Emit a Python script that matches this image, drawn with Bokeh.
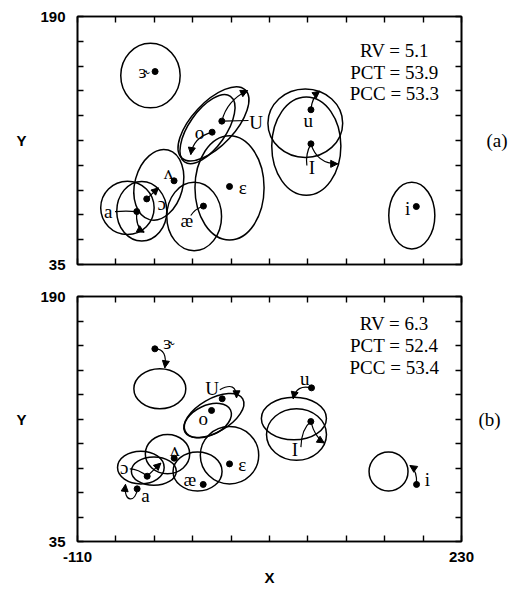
from bokeh.plotting import figure
from bokeh.models import Range1d, FixedTicker, LinearAxis, Arrow, NormalHead, ColumnDataSource
from bokeh.layouts import column
from bokeh.embed import file_html
from bokeh.resources import INLINE
from bokeh.core.properties import value

VOWELS = ["ɝ", "U", "o", "ɛ", "æ", "ʌ", "ɔ", "a", "u", "I", "i"]

X_RANGE = (-110, 230)
Y_RANGE = (35, 190)
X_MINOR = [-76, -42, -8, 26, 60, 94, 128, 162, 196]
Y_MINOR = [50.5, 66, 81.5, 97, 112.5, 128, 143.5, 159, 174.5]

# ---------------- panel (a) ----------------
A_PT_X = [-41.3, 17.8, 9.2, 24.6, 1.5, -24.5, -48.7, -57.5, 96.7, 96.7, 190.0]
A_PT_Y = [155.6, 124.6, 117.7, 83.75, 71.5, 87.3, 76.0, 68.1, 131.7, 110.4, 71.25]
A_EL_X = [-45.4, 10.4, 5.1, 24.6, -6.7, -38.0, -53.1, -65.8, 91.7, 92.6, 186.0]
A_EL_Y = [153.1, 122.9, 119.6, 82.9, 65.0, 84.8, 68.3, 70.4, 123.3, 109.0, 65.6]
A_EL_W = [52.6, 82.4, 70.9, 61.2, 48.5, 63.8, 44.3, 47.3, 66.2, 61.2, 40.8]
A_EL_H = [40.4, 26.9, 23.1, 65.2, 42.7, 30.0, 37.3, 33.3, 42.7, 61.5, 41.7]
A_EL_ANG = [0, 47, 55, 0, 0, 75, 0, 0, 0, 0, 0]
A_LAB_X = [-51.0, 48.2, -2.0, 36.4, -13.2, -29.5, -35.4, -82.7, 94.3, 97.6, 182.4]
A_LAB_Y = [155.8, 124.0, 117.7, 83.3, 62.5, 92.3, 73.3, 68.3, 125.0, 95.4, 69.8]
A_STATS = ["RV = 5.1", "PCT = 53.9", "PCC = 53.3"]
A_STATS_X = [170.6, 170.6, 170.6]
A_STATS_Y = [168.75, 155.2, 141.7]
# connectors (quadratic curves), head = 1 -> arrowhead at the end
A_C_X0 = [-76.8, -57.5, -48.7, -9.7, 9.2, 17.8, 17.8, 96.7, 96.7, 96.7]
A_C_Y0 = [68.1, 68.1, 76.0, 65.6, 117.7, 124.6, 124.6, 131.7, 110.4, 110.4]
A_C_CX = [-67.0, -59.0, -43.5, -5.8, -7.3, 29.6, 22.2, 97.6, 102.0, 91.7]
A_C_CY = [68.6, 58.3, 79.5, 69.8, 114.6, 124.8, 137.5, 139.6, 97.9, 104.2]
A_C_X1 = [-57.5, -51.0, -38.3, 0.6, -9.7, 41.4, 40.6, 104.4, 120.4, 93.1]
A_C_Y1 = [68.1, 55.2, 82.9, 71.25, 103.75, 125.0, 143.75, 143.3, 97.9, 96.9]
A_C_HEAD = [0, 1, 1, 0, 1, 0, 1, 1, 1, 0]

# ---------------- panel (b) ----------------
B_PT_X = [-41.5, 18.1, 8.7, 24.6, 1.3, -24.4, -48.3, -57.2, 97.2, 96.6, 190.2]
B_PT_Y = [156.9, 125.3, 117.9, 84.1, 71.1, 87.7, 76.3, 68.3, 132.2, 110.9, 71.1]
B_EL_X = [-37.1, 10.7, 5.4, 24.6, -3.7, -30.3, -53.9, -42.4, 81.6, 83.9, 165.4]
B_EL_Y = [131.6, 114.7, 111.5, 89.6, 79.3, 90.3, 81.8, 79.5, 112.8, 102.7, 79.3]
B_EL_W = [46.0, 59.1, 44.3, 51.7, 43.4, 39.3, 41.3, 39.8, 57.6, 53.1, 34.5]
B_EL_H = [25.3, 21.1, 19.0, 36.3, 24.7, 24.9, 20.7, 17.9, 27.0, 32.7, 24.7]
B_EL_ANG = [0, 30, 25, 0, 0, 0, 0, 0, 0, 0, 0]
B_LAB_X = [-29.1, 9.2, 1.3, 35.8, -10.5, -23.8, -68.7, -49.8, 91.3, 82.4, 199.9]
B_LAB_Y = [161.1, 131.6, 113.0, 83.5, 74.0, 93.0, 82.0, 64.1, 138.3, 93.0, 74.2]
B_STATS = ["RV = 6.3", "PCT = 52.4", "PCC = 53.4"]
B_STATS_X = [170.4, 170.4, 170.4]
B_STATS_Y = [172.7, 159.0, 145.3]
B_C_X0 = [-41.5, 16.0, -63.7, -48.3, 97.2, 96.6, 96.6, 190.2]
B_C_Y0 = [156.9, 131.0, 81.0, 76.3, 132.2, 110.9, 110.9, 71.1]
B_C_CX = [-30.0, 30.8, -56.3, -42.3, 83.9, 100.2, 88.3, 191.0]
B_C_CY = [157.0, 136.9, 81.0, 80.5, 134.7, 101.0, 106.3, 79.9]
B_C_X1 = [-32.7, 30.8, -48.3, -36.2, 81.0, 108.4, 87.8, 184.3]
B_C_Y1 = [144.9, 125.9, 76.3, 84.6, 125.3, 97.4, 94.7, 83.1]
B_C_HEAD = [1, 1, 0, 1, 1, 1, 0, 1]
# loop arrow under "a" (cubic)
B_LOOP_X0, B_LOOP_Y0 = [-57.2], [68.3]
B_LOOP_CX0, B_LOOP_CY0 = [-57.8], [59.9]
B_LOOP_CX1, B_LOOP_CY1 = [-69.6], [58.8]
B_LOOP_X1, B_LOOP_Y1 = [-67.5], [71.1]

SERIF = "Liberation Serif"
SANS = "Liberation Sans"


def make_axis(is_x, show_labels, standoff, label=None, label_standoff=0, serif_label=False):
    lo, hi = (X_RANGE if is_x else Y_RANGE)
    minor = X_MINOR if is_x else Y_MINOR
    ax = LinearAxis(ticker=FixedTicker(ticks=[lo, hi], minor_ticks=minor))
    ax.major_tick_in = 6
    ax.major_tick_out = 0
    ax.minor_tick_in = 6
    ax.minor_tick_out = 0
    ax.axis_line_width = 1.6
    ax.axis_line_color = "black"
    ax.major_tick_line_width = 1.4
    ax.minor_tick_line_width = 1.4
    ax.major_tick_line_color = "black"
    ax.minor_tick_line_color = "black"
    if show_labels:
        ax.major_label_text_font = SANS
        ax.major_label_text_font_style = "bold"
        ax.major_label_text_font_size = "15px"
        ax.major_label_text_color = "black"
        ax.major_label_standoff = standoff
        ax.major_label_overrides = {lo: str(lo), hi: str(hi)}
    else:
        ax.major_label_overrides = {lo: "", hi: ""}
        ax.major_label_text_font_size = "0px"
        ax.major_label_standoff = 0
    if label is not None:
        ax.axis_label = label
        ax.axis_label_orientation = "horizontal"
        ax.axis_label_standoff = label_standoff
        ax.axis_label_text_color = "black"
        if serif_label:
            ax.axis_label_text_font = SERIF
            ax.axis_label_text_font_style = "normal"
            ax.axis_label_text_font_size = "19px"
        else:
            ax.axis_label_text_font = SANS
            ax.axis_label_text_font_style = "bold"
            ax.axis_label_text_font_size = "15px"
    return ax


def make_panel(pt_x, pt_y, el_x, el_y, el_w, el_h, el_ang, lab_x, lab_y,
               cx0, cy0, ccx, ccy, cx1, cy1, chead, stats, sx, sy,
               tag, tag_standoff, frame_h, bottom, x_labels):
    p = figure(frame_width=384, frame_height=frame_h,
               x_range=Range1d(*X_RANGE), y_range=Range1d(*Y_RANGE),
               x_axis_type=None, y_axis_type=None,
               output_backend="svg", toolbar_location=None,
               min_border_left=77, min_border_right=56,
               min_border_top=16, min_border_bottom=bottom)
    p.outline_line_color = "black"
    p.outline_line_width = 1.6
    p.background_fill_color = "white"
    p.border_fill_color = "white"

    if x_labels:
        p.add_layout(make_axis(True, True, 10, "X", 4), "below")
    else:
        p.add_layout(make_axis(True, False, 0), "below")
    p.add_layout(make_axis(False, True, 12, "Y", 11), "left")
    p.add_layout(make_axis(True, False, 0), "above")
    p.add_layout(make_axis(False, False, 0, tag, tag_standoff, serif_label=True), "right")

    p.ellipse(x=el_x, y=el_y, width=el_w, height=el_h, angle=el_ang,
              angle_units="deg", fill_color=None, line_color="black",
              line_width=1.5)
    p.quadratic(x0=cx0, y0=cy0, x1=cx1, y1=cy1, cx=ccx, cy=ccy,
                line_color="black", line_width=1.2)
    heads = [i for i, h in enumerate(chead) if h]
    src = ColumnDataSource(dict(xs=[ccx[i] for i in heads], ys=[ccy[i] for i in heads],
                                xe=[cx1[i] for i in heads], ye=[cy1[i] for i in heads]))
    p.add_layout(Arrow(end=NormalHead(size=7, fill_color="black", line_color="black",
                                      line_width=1),
                       source=src, x_start="xs", y_start="ys", x_end="xe", y_end="ye",
                       line_alpha=0))
    p.scatter(x=pt_x, y=pt_y, size=6, color="black")
    p.text(x=lab_x, y=lab_y, text=VOWELS, text_font=value(SERIF),
           text_font_size="19px", text_align="center", text_baseline="middle",
           text_color="black")
    p.text(x=sx, y=sy, text=stats, text_font=value(SERIF), text_font_size="19px",
           text_align="center", text_baseline="middle", text_color="black")
    return p


pa = make_panel(A_PT_X, A_PT_Y, A_EL_X, A_EL_Y, A_EL_W, A_EL_H, A_EL_ANG, A_LAB_X, A_LAB_Y,
                A_C_X0, A_C_Y0, A_C_CX, A_C_CY, A_C_X1, A_C_Y1, A_C_HEAD,
                A_STATS, A_STATS_X, A_STATS_Y, "(a)", 25, 248, 16, False)
pb = make_panel(B_PT_X, B_PT_Y, B_EL_X, B_EL_Y, B_EL_W, B_EL_H, B_EL_ANG, B_LAB_X, B_LAB_Y,
                B_C_X0, B_C_Y0, B_C_CX, B_C_CY, B_C_X1, B_C_Y1, B_C_HEAD,
                B_STATS, B_STATS_X, B_STATS_Y, "(b)", 17, 245, 48, True)
pb.bezier(x0=B_LOOP_X0, y0=B_LOOP_Y0, x1=B_LOOP_X1, y1=B_LOOP_Y1,
          cx0=B_LOOP_CX0, cy0=B_LOOP_CY0, cx1=B_LOOP_CX1, cy1=B_LOOP_CY1,
          line_color="black", line_width=1.2)
pb.add_layout(Arrow(end=NormalHead(size=7, fill_color="black", line_color="black", line_width=1),
                    x_start=B_LOOP_CX1[0], y_start=B_LOOP_CY1[0],
                    x_end=B_LOOP_X1[0], y_end=B_LOOP_Y1[0], line_alpha=0))

layout = column(pa, pb, spacing=0)
with open("out.html", "w") as f:
    f.write(file_html(layout, INLINE))
